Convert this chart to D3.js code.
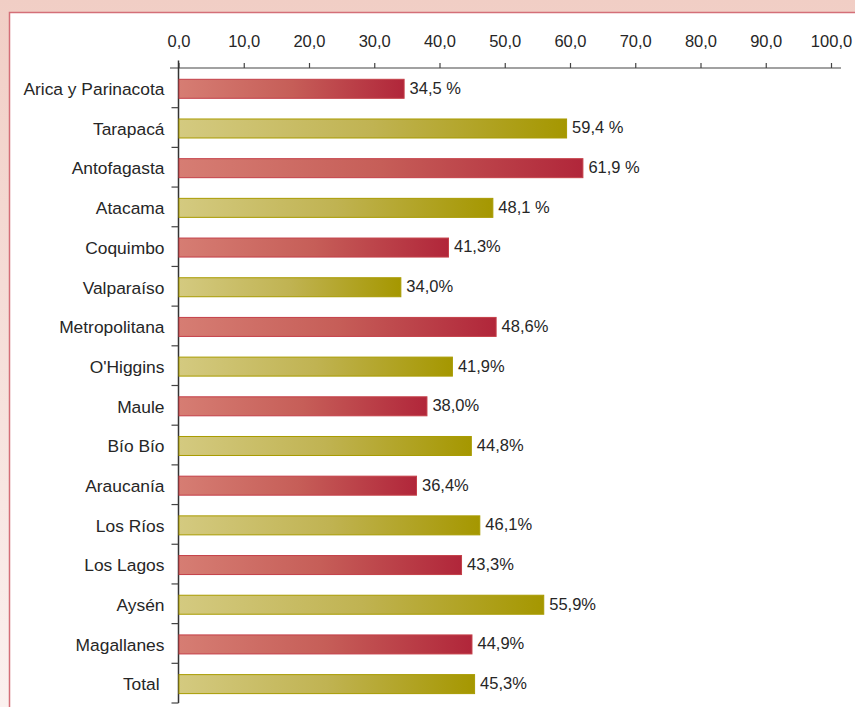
<!DOCTYPE html>
<html><head><meta charset="utf-8">
<script src="https://cdn.jsdelivr.net/npm/d3@7"></script>
<style>
html,body{margin:0;padding:0;background:#fff;}
svg{display:block;font-family:"Liberation Sans",Arial,sans-serif;}
</style></head>
<body>
<svg id="c" width="855" height="707"></svg>
<script>
const categories = ["Arica y Parinacota","Tarapacá","Antofagasta","Atacama","Coquimbo","Valparaíso","Metropolitana","O'Higgins","Maule","Bío Bío","Araucanía","Los Ríos","Los Lagos","Aysén","Magallanes","Total "];
const values = [34.5,59.4,61.9,48.1,41.3,34.0,48.6,41.9,38.0,44.8,36.4,46.1,43.3,55.9,44.9,45.3];
const valueLabels = ["34,5 %","59,4 %","61,9 %","48,1 %","41,3%","34,0%","48,6%","41,9%","38,0%","44,8%","36,4%","46,1%","43,3%","55,9%","44,9%","45,3%"];
const tickValues = [0,10,20,30,40,50,60,70,80,90,100];
const tickLabels = ["0,0","10,0","20,0","30,0","40,0","50,0","60,0","70,0","80,0","90,0","100,0"];

const svg = d3.select("#c");
const defs = svg.append("defs");
const bg = defs.append("linearGradient").attr("id","bg").attr("x1",0).attr("y1",0).attr("x2",0).attr("y2",1);
bg.append("stop").attr("offset",0).attr("stop-color","#f1cec5");
bg.append("stop").attr("offset",1).attr("stop-color","#fbf1ef");
const gr = defs.append("linearGradient").attr("id","gRed");
gr.append("stop").attr("offset",0).attr("stop-color","#d67d73");
gr.append("stop").attr("offset",0.5).attr("stop-color","#c65e58");
gr.append("stop").attr("offset",1).attr("stop-color","#b1263a");
const go = defs.append("linearGradient").attr("id","gOl");
go.append("stop").attr("offset",0).attr("stop-color","#d4ca80");
go.append("stop").attr("offset",0.5).attr("stop-color","#c0b352");
go.append("stop").attr("offset",1).attr("stop-color","#a59700");

svg.append("rect").attr("x",0).attr("y",0).attr("width",855).attr("height",707).attr("fill","url(#bg)");
svg.append("rect").attr("x",9.5).attr("y",12.5).attr("width",900).attr("height",800)
  .attr("fill","#fff").attr("stroke","#d46f78").attr("stroke-width",1.5);

const x = d3.scaleLinear().domain([0,100]).range([178.5,831]);
const y = d3.scaleBand().domain(categories).range([68,703]).padding(0);
const barH = 19;
const off = 11.3;

// x axis on top
const xAxis = d3.axisTop(x).tickValues(tickValues).tickFormat((d,i)=>tickLabels[i]).tickSize(5).tickSizeOuter(0);
const gx = svg.append("g").attr("transform","translate(0,68)").call(xAxis);
gx.select(".domain").remove();
gx.append("line").attr("x1",170).attr("x2",841).attr("y1",0).attr("y2",0).attr("stroke","#444").attr("stroke-width",1.2);
gx.selectAll(".tick line").attr("stroke","#444").attr("stroke-width",1.2);
gx.selectAll(".tick text").attr("fill","#262626").attr("font-size","16.5px").attr("dy",0).attr("y",-21.5)
  .attr("font-family","Liberation Sans, Arial, sans-serif");

// y axis
const gy = svg.append("g").attr("transform","translate(178.5,0)");
gy.append("line").attr("x1",0).attr("x2",0).attr("y1",60.5).attr("y2",703).attr("stroke","#333").attr("stroke-width",1.5);
const bounds = categories.map((c)=>y(c)+y.bandwidth());
gy.selectAll("line.tk").data(bounds).join("line").attr("class","tk")
  .attr("x1",-7).attr("x2",0).attr("y1",d=>d).attr("y2",d=>d).attr("stroke","#444").attr("stroke-width",1.2);
gy.selectAll("text.cat").data(categories).join("text").attr("class","cat")
  .attr("x",-14).attr("y",(d)=>y(d)+off+barH/2).attr("dy","0.36em")
  .attr("text-anchor","end").attr("font-size","17.4px").attr("fill","#262626")
  .style("white-space","pre").attr("xml:space","preserve").text(d=>d);

// bars
const bars = svg.append("g");
bars.selectAll("rect").data(values).join("rect")
  .attr("x",x(0)+0.5).attr("y",(d,i)=>y(categories[i])+off)
  .attr("width",d=>x(d)-x(0)).attr("height",barH)
  .attr("fill",(d,i)=> i%2===0 ? "url(#gRed)" : "url(#gOl)")
  .attr("stroke",(d,i)=> i%2===0 ? "#c43f48" : "#a89b00").attr("stroke-width",1);

svg.append("g").selectAll("text").data(values).join("text")
  .attr("x",d=>x(d)+6).attr("y",(d,i)=>y(categories[i])+off+barH/2-1).attr("dy","0.36em")
  .attr("font-size","16.5px").attr("fill","#262626").text((d,i)=>valueLabels[i]);
</script>
</body></html>
